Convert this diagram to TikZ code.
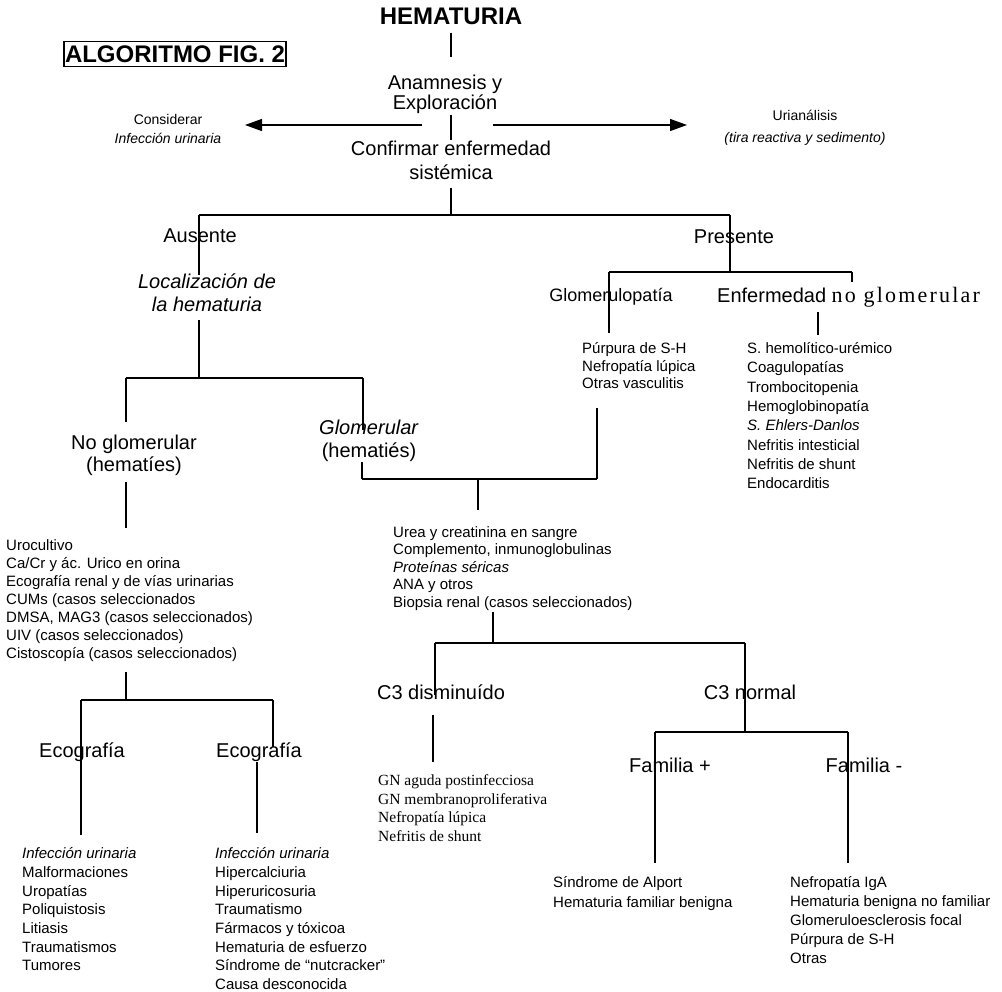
\documentclass[tikz,border=0pt]{standalone}
\usepackage{fontspec}
\setmainfont{Liberation Sans}
\newfontfamily\tmsfont{Liberation Serif}
\newfontfamily\tmswide[LetterSpace=10]{Liberation Serif}
\usetikzlibrary{arrows.meta}
\tikzset{
  ln/.style={line width=1.3pt},
  arr/.style={line width=1.3pt, -{Triangle[length=17pt,width=12pt]}},
  txt/.style={inner sep=0pt, align=center, font=\fontsize{20}{22}\selectfont},
  lst/.style={inner sep=0pt, align=left, anchor=north west},
}
\begin{document}
\begin{tikzpicture}[x=1pt,y=-1pt]
\useasboundingbox (0,0) rectangle (1002,992);

% ---------- text nodes ----------
\node[inner sep=0pt, font=\fontsize{24}{28}\selectfont\bfseries] (title) at (451,16) {HEMATURIA};
\node[draw, line width=1.2pt, inner xsep=1pt, inner ysep=4pt, font=\fontsize{24}{28}\selectfont\bfseries] (algo) at (175,54) {ALGORITMO FIG. 2};
\node[txt, font=\fontsize{20}{20}\selectfont] (anam) at (445,94) {Anamnesis y\\Exploración};
\node[txt, font=\fontsize{14}{19}\selectfont] (cons) at (168,129) {Considerar\\\textit{Infección urinaria}};
\node[txt, font=\fontsize{14}{22}\selectfont] (uria) at (805,128) {Urianálisis\\\textit{(tira reactiva y sedimento)}};
\node[txt, font=\fontsize{20}{24}\selectfont] (conf) at (451,160) {Confirmar enfermedad\\sistémica};
\node[txt] (aus) at (200,236) {Ausente};
\node[txt] (pres) at (734,237) {Presente};
\node[txt, font=\fontsize{20}{23}\selectfont\itshape] (loc) at (207,293) {Localización de\\la hematuria};
\node[txt, font=\fontsize{18}{22}\selectfont] (glomp) at (611,297) {Glomerulopatía};
\node[txt, anchor=west] (enf) at (717,297) {Enfermedad {\tmswide\fontsize{22}{24}\selectfont no glomerular}};
\node[txt] (noglom) at (134,455) {No glomerular\\(hematíes)};
\node[txt, font=\fontsize{20}{23}\selectfont] (glom) at (369,441) {\textit{Glomerular}\\(hematiés)};
\node[txt] (c3d) at (441,692) {C3 disminuído};
\node[txt] (c3n) at (750,692) {C3 normal};
\node[txt] (eco1) at (82,752) {Ecografía};
\node[txt] (eco2) at (259,752) {Ecografía};
\node[txt] (fp) at (670,765) {Familia +};
\node[txt] (fm) at (864,765) {Familia -};

% ---------- lists ----------
\node[lst, font=\fontsize{15}{18}\selectfont] (l1) at (6,539.4) {Urocultivo\\Ca/Cr y ác. Urico en orina\\Ecografía renal y de vías urinarias\\CUMs (casos seleccionados\\DMSA, MAG3 (casos seleccionados)\\UIV (casos seleccionados)\\Cistoscopía (casos seleccionados)};
\node[lst, font=\fontsize{15}{17.5}\selectfont] (lpur) at (582,342.4) {Púrpura de S-H\\Nefropatía lúpica\\Otras vasculitis};
\node[lst, font=\fontsize{15}{19.3}\selectfont] (lenf) at (747,342.4) {S. hemolítico-urémico\\Coagulopatías\\Trombocitopenia\\Hemoglobinopatía\\\textit{S. Ehlers-Danlos}\\Nefritis intesticial\\Nefritis de shunt\\Endocarditis};
\node[lst, font=\fontsize{15}{17.5}\selectfont] (lurea) at (393,526.4) {Urea y creatinina en sangre\\Complemento, inmunoglobulinas\\\textit{Proteínas séricas}\\ANA y otros\\Biopsia renal (casos seleccionados)};
\node[lst, font=\fontsize{15}{18.7}\selectfont] (leco1) at (22,847.4) {\textit{Infección urinaria}\\Malformaciones\\Uropatías\\Poliquistosis\\Litiasis\\Traumatismos\\Tumores};
\node[lst, font=\fontsize{15}{18.7}\selectfont] (leco2) at (215,847.4) {\textit{Infección urinaria}\\Hipercalciuria\\Hiperuricosuria\\Traumatismo\\Fármacos y tóxicoa\\Hematuria de esfuerzo\\Síndrome de “nutcracker”\\Causa desconocida};
\node[lst, font=\tmsfont\fontsize{15.5}{18.7}\selectfont] (lgn) at (378,774.4) {GN aguda postinfecciosa\\GN membranoproliferativa\\Nefropatía lúpica\\Nefritis de shunt};
\node[lst, font=\fontsize{15}{20}\selectfont] (lfp) at (553,876.4) {Síndrome de Alport\\Hematuria familiar benigna};
\node[lst, font=\fontsize{15}{19}\selectfont] (lfm) at (790,876.4) {Nefropatía IgA\\Hematuria benigna no familiar\\Glomeruloesclerosis focal\\Púrpura de S-H\\Otras};

% ---------- coordinates ----------
\coordinate (p1) at (451,33);  \coordinate (p2) at (451,57);
\coordinate (p3) at (451,115); \coordinate (p4) at (451,140);
\coordinate (aLs) at (422,125); \coordinate (aLe) at (245,125);
\coordinate (aRs) at (493,125); \coordinate (aRe) at (687,125);
\coordinate (p5) at (451,188); \coordinate (b1m) at (451,215);
\coordinate (b1l) at (199,215); \coordinate (b1r) at (730,215);
\coordinate (p7) at (199,275); \coordinate (p8) at (730,272);
\coordinate (b4l) at (609,272); \coordinate (b4r) at (852,272);
\coordinate (p9) at (609,333); \coordinate (p10) at (852,282);
\coordinate (p11) at (818,312); \coordinate (p12) at (818,335);
\coordinate (p13) at (597,408); \coordinate (b5r) at (597,479);
\coordinate (b5l) at (362,479); \coordinate (p14) at (362,462);
\coordinate (b5m) at (478,479); \coordinate (p15) at (478,510);
\coordinate (p16) at (493,612); \coordinate (b6m) at (493,643);
\coordinate (b6l) at (435,643); \coordinate (b6r) at (745,643);
\coordinate (p17) at (435,695);
\coordinate (p18) at (433,715); \coordinate (p19) at (433,762);
\coordinate (b7m) at (745,732);
\coordinate (b7l) at (655,732); \coordinate (b7r) at (848,732);
\coordinate (p20) at (655,863); \coordinate (p21) at (848,863);
\coordinate (p22) at (199,320); \coordinate (b2m) at (199,378);
\coordinate (b2l) at (126,378); \coordinate (b2r) at (363,378);
\coordinate (p23) at (126,422); \coordinate (p24) at (363,430);
\coordinate (p25) at (126,482); \coordinate (p26) at (126,528);
\coordinate (p27) at (126,672); \coordinate (b3m) at (126,700);
\coordinate (b3l) at (81,700); \coordinate (b3r) at (273,700);
\coordinate (p28) at (81,835);
\coordinate (p29) at (273,747);
\coordinate (p30) at (257,762); \coordinate (p31) at (257,833);

% ---------- connectors ----------
\draw[ln] (p1) -- (p2);
\draw[ln] (p3) -- (p4);
\draw[arr] (aLs) -- (aLe);
\draw[arr] (aRs) -- (aRe);
\draw[ln] (p5) -- (b1m);
\draw[ln] (b1l) -- (b1r);
\draw[ln] (b1l) -- (p7);
\draw[ln] (b1r) -- (p8);
\draw[ln] (b4l) -- (b4r);
\draw[ln] (b4l) -- (p9);
\draw[ln] (b4r) -- (p10);
\draw[ln] (p11) -- (p12);
\draw[ln] (p13) -- (b5r);
\draw[ln] (b5l) -- (b5r);
\draw[ln] (p14) -- (b5l);
\draw[ln] (b5m) -- (p15);
\draw[ln] (p16) -- (b6m);
\draw[ln] (b6l) -- (b6r);
\draw[ln] (b6l) -- (p17);
\draw[ln] (p18) -- (p19);
\draw[ln] (b6r) -- (b7m);
\draw[ln] (b7l) -- (b7r);
\draw[ln] (b7l) -- (p20);
\draw[ln] (b7r) -- (p21);
\draw[ln] (p22) -- (b2m);
\draw[ln] (b2l) -- (b2r);
\draw[ln] (b2l) -- (p23);
\draw[ln] (b2r) -- (p24);
\draw[ln] (p25) -- (p26);
\draw[ln] (p27) -- (b3m);
\draw[ln] (b3l) -- (b3r);
\draw[ln] (b3l) -- (p28);
\draw[ln] (b3r) -- (p29);
\draw[ln] (p30) -- (p31);
\end{tikzpicture}
\end{document}
